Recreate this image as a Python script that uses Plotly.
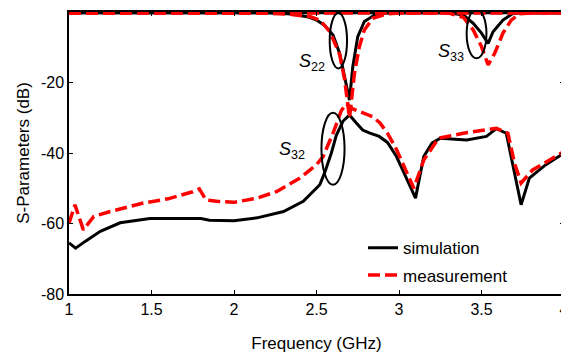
import plotly.graph_objects as go

# ---- data (frequency in GHz, S-parameters in dB) ----
s32_sim_f = [1.0, 1.04, 1.1, 1.19, 1.31, 1.49, 1.8, 1.85, 2.0, 2.14, 2.3, 2.42, 2.52, 2.55, 2.59, 2.62,
             2.66, 2.70, 2.74, 2.78, 2.82, 2.88, 2.93, 2.985, 3.04, 3.10, 3.15, 3.20, 3.25, 3.33, 3.41,
             3.53, 3.59, 3.65, 3.70, 3.74, 3.79, 3.89, 4.0]
s32_sim_db = [-65.5, -67, -65, -62.2, -59.8, -58.6, -58.6, -59.1, -59.2, -58.4, -56.6, -53.7, -49, -45.5,
              -40, -35, -31, -29.2, -31.4, -33.5, -34.3, -35.3, -37, -41, -46.6, -52.8, -41, -37.2, -35.8,
              -36, -36.3, -35.3, -33.1, -34.4, -45.7, -54.7, -47.1, -43.3, -40]

s32_meas_f = [1.0, 1.036, 1.087, 1.15, 1.25, 1.45, 1.6, 1.75, 1.79, 1.83, 1.895, 2.0, 2.14, 2.26, 2.40,
              2.50, 2.54, 2.60, 2.65, 2.68, 2.72, 2.78, 2.84, 2.885, 2.93, 2.985, 3.09, 3.15, 3.24, 3.39,
              3.59, 3.66, 3.70, 3.74, 3.81, 4.0]
s32_meas_db = [-59.9, -54.7, -61.8, -58, -56.6, -54.2, -53, -51, -50.2, -53.3, -53.7, -54, -52.8, -50.9,
               -47.1, -43.3, -41, -34.4, -28, -26, -27.5, -28.5, -29.7, -31.5, -34.4, -39, -50, -42, -35.8,
               -34.4, -33, -34.4, -42.9, -48.5, -44.8, -39.6]

s22_sim_f = [1.0, 2.2, 2.35, 2.45, 2.5, 2.55, 2.6, 2.64, 2.67, 2.70, 2.72, 2.75, 2.79, 2.86, 2.95, 4.0]
s22_sim_db = [-0.2, -0.2, -0.6, -1.4, -2.3, -3.8, -6.5, -11.7, -18.3, -25, -15.5, -7, -2.7, -0.6, -0.2, -0.2]

s22_meas_f = [1.0, 2.2, 2.35, 2.46, 2.52, 2.58, 2.64, 2.67, 2.70, 2.73, 2.76, 2.79, 2.84, 2.93, 3.0, 4.0]
s22_meas_db = [-0.3, -0.3, -0.7, -1.3, -2.3, -5.5, -12, -19, -30, -17.4, -9.8, -5.1, -1.8, -0.5, -0.3, -0.3]

s33_sim_f = [1.0, 3.3, 3.39, 3.45, 3.50, 3.54, 3.57, 3.63, 3.69, 3.75, 4.0]
s33_sim_db = [-0.2, -0.2, -0.85, -3.2, -6, -8.9, -5.6, -2.3, -0.4, -0.2, -0.2]

s33_meas_f = [1.0, 3.3, 3.39, 3.45, 3.50, 3.54, 3.58, 3.63, 3.68, 3.73, 3.8, 4.0]
s33_meas_db = [-0.3, -0.3, -1.5, -5.1, -9.8, -15, -11.7, -6, -2.3, -0.5, -0.3, -0.3]

x_ticks = [1, 1.5, 2, 2.5, 3, 3.5, 4]
x_tick_labels = ["1", "1.5", "2", "2.5", "3", "3.5", "4"]
y_ticks = [0, -20, -40, -60, -80]
y_tick_labels = ["0", "-20", "-40", "-60", "-80"]

FONT = "Liberation Sans, Arial, sans-serif"
sim_line = dict(color="black", width=3)
meas_line = dict(color="#ff0000", width=3.5, dash="12px,5px")

fig = go.Figure()
# simulation
fig.add_trace(go.Scatter(x=s22_sim_f, y=s22_sim_db, mode="lines", line=sim_line, showlegend=False))
fig.add_trace(go.Scatter(x=s33_sim_f, y=s33_sim_db, mode="lines", line=sim_line, showlegend=False))
fig.add_trace(go.Scatter(x=s32_sim_f, y=s32_sim_db, mode="lines", line=sim_line, name="simulation",
                         legendgroup="a"))
# measurement
fig.add_trace(go.Scatter(x=s22_meas_f, y=s22_meas_db, mode="lines", line=meas_line, showlegend=False))
fig.add_trace(go.Scatter(x=s33_meas_f, y=s33_meas_db, mode="lines", line=meas_line, showlegend=False))
fig.add_trace(go.Scatter(x=s32_meas_f, y=s32_meas_db, mode="lines", line=meas_line, name="measurement",
                         legendgroup="b"))

# ellipses marking the curves
ell = dict(type="circle", xref="x", yref="y", line=dict(color="black", width=2), layer="above")
fig.add_shape(x0=2.58, x1=2.685, y0=-16, y1=-0.3, **ell)
fig.add_shape(x0=3.41, x1=3.53, y0=-13.1, y1=0.8, **ell)
fig.add_shape(x0=2.53, x1=2.67, y0=-49, y1=-28.6, **ell)

lab = dict(xref="x", yref="y", showarrow=False, font=dict(family=FONT, size=18, color="black"),
           xanchor="center", yanchor="middle")
fig.add_annotation(x=2.475, y=-14.2, text="<i>S</i><sub>22</sub>", **lab)
fig.add_annotation(x=3.318, y=-11.6, text="<i>S</i><sub>33</sub>", **lab)
fig.add_annotation(x=2.352, y=-39.2, text="<i>S</i><sub>32</sub>", **lab)

# the page body has an 8px margin, so the figure is 8px smaller and margins shifted
fig.update_layout(
    width=561, height=345,
    margin=dict(l=61, r=5, t=4, b=59),
    paper_bgcolor="white", plot_bgcolor="white",
    font=dict(family=FONT, size=16, color="black"),
    showlegend=True,
    legend=dict(x=0.594, y=0.226, xanchor="left", yanchor="top", bgcolor="rgba(0,0,0,0)",
                font=dict(family=FONT, size=17), tracegroupgap=2, borderwidth=0),
    xaxis=dict(range=[1, 4], tickmode="array", tickvals=x_ticks, ticktext=x_tick_labels,
               ticks="inside", ticklen=4, tickcolor="black", showline=True, linecolor="black",
               linewidth=1.5, mirror="ticks", showgrid=False, zeroline=False, automargin=False,
               title=dict(text="Frequency (GHz)", font=dict(size=17), standoff=20)),
    yaxis=dict(range=[-80, 0], tickmode="array", tickvals=y_ticks, ticktext=y_tick_labels,
               ticks="inside", ticklen=4, tickcolor="black", showline=True, linecolor="black",
               linewidth=1.5, mirror="ticks", showgrid=False, zeroline=False, automargin=False,
               title=dict(text="S-Parameters (dB)", font=dict(size=17), standoff=7)),
)

fig.write_html("out.html")
